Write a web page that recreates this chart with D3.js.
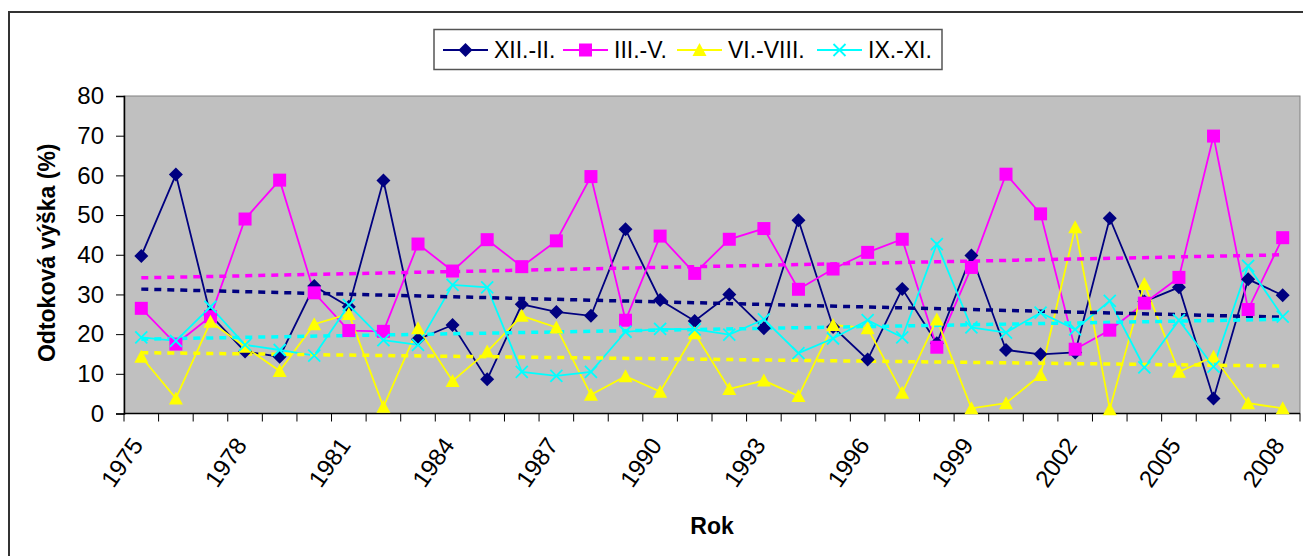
<!DOCTYPE html>
<html>
<head>
<meta charset="utf-8">
<script src="https://cdn.jsdelivr.net/npm/d3@7"></script>
<style>
  body { margin: 0; background: #fff; }
  text { font-family: "Liberation Sans", Arial, sans-serif; }
</style>
</head>
<body>
<div id="chart"></div>
<script>
// data
const years = [1975, 1976, 1977, 1978, 1979, 1980, 1981, 1982, 1983, 1984, 1985,
  1986, 1987, 1988, 1989, 1990, 1991, 1992, 1993, 1994, 1995, 1996, 1997, 1998,
  1999, 2000, 2001, 2002, 2003, 2004, 2005, 2006, 2007, 2008];
const tickYears = [1975, 1978, 1981, 1984, 1987, 1990, 1993, 1996, 1999, 2002, 2005, 2008];
const yTicks = [0, 10, 20, 30, 40, 50, 60, 70, 80];

const zima = [39.7, 60.2, 24.8, 15.6, 14.3, 32.1, 26.9, 58.7, 18.7, 22.3, 8.6,
  27.5, 25.6, 24.6, 46.4, 28.6, 23.3, 30.0, 21.5, 48.7, 21.8, 13.6, 31.4, 17.7,
  39.8, 16.0, 14.9, 15.4, 49.2, 28.2, 31.8, 3.8, 33.8, 29.8];
const jaro = [26.5, 17.5, 24.4, 49.0, 58.8, 30.4, 20.9, 20.7, 42.7, 35.9, 43.8,
  37.0, 43.5, 59.7, 23.5, 44.7, 35.3, 43.9, 46.6, 31.3, 36.4, 40.6, 43.9, 16.7,
  36.8, 60.3, 50.3, 16.2, 21.0, 27.8, 34.3, 69.9, 26.2, 44.3];
const leto = [14.3, 3.8, 23.1, 16.8, 10.7, 22.5, 25.1, 1.7, 21.5, 8.2, 15.6,
  24.6, 21.7, 4.7, 9.4, 5.5, 20.2, 6.2, 8.3, 4.4, 22.3, 21.5, 5.2, 23.7,
  1.3, 2.6, 9.7, 46.9, 1.1, 32.6, 10.5, 14.3, 2.6, 1.3];
const podzim = [19.2, 18.3, 26.9, 17.3, 16.0, 14.6, 27.3, 18.5, 17.3, 32.4, 31.8,
  10.5, 9.5, 10.5, 20.6, 21.3, 21.2, 19.9, 23.7, 15.2, 18.9, 23.5, 19.2, 42.7,
  21.7, 20.4, 25.4, 21.2, 28.4, 11.6, 23.5, 11.8, 37.2, 24.4];

const seriesNames = ["XII.-II.", "III.-V.", "VI.-VIII.", "IX.-XI."];
const seriesColors = ["#000080", "#FF00FF", "#FFFF00", "#00FFFF"];
const seriesShapes = ["diamond", "square", "triangle", "x"];

const series = [zima, jaro, leto, podzim].map((vals, i) => ({
  name: seriesNames[i], color: seriesColors[i], shape: seriesShapes[i],
  values: vals.map((v, j) => ({year: years[j], value: v}))
}));

// set the dimensions and margins of the graph
const W = 1303, H = 556;
const margin = {top: 96, right: 3, bottom: 142.5, left: 124},
    width = W - margin.left - margin.right,
    height = H - margin.top - margin.bottom;

const root = d3.select("#chart")
  .append("svg")
    .attr("width", W)
    .attr("height", H);

// chart border
root.append("rect")
  .attr("x", 9).attr("y", 12)
  .attr("width", W + 20).attr("height", H + 20)
  .attr("fill", "#fff")
  .attr("stroke", "#333").attr("stroke-width", 2);

const svg = root.append("g")
  .attr("transform", `translate(${margin.left}, ${margin.top})`);

const x = d3.scaleBand()
  .domain(years)
  .range([0, width])
  .padding(0);

const y = d3.scaleLinear()
  .domain([0, 80])
  .range([height, 0]);

// plot area
svg.append("rect")
  .attr("width", width).attr("height", height)
  .attr("fill", "#C0C0C0")
  .attr("stroke", "#808080").attr("stroke-width", 1);

// Y axis
const yAxis = svg.append("g")
  .call(d3.axisLeft(y).tickValues(yTicks).tickSize(8).tickPadding(12));
yAxis.select(".domain").attr("stroke", "#000").attr("stroke-width", 1.5);
yAxis.selectAll(".tick line").attr("stroke", "#000");
yAxis.selectAll("text")
  .style("font-size", "24px")
  .style("font-family", "Liberation Sans, Arial, sans-serif")
  .attr("fill", "#000");

// X axis: ticks between categories, labels every third year
const xAxis = svg.append("g")
  .attr("transform", `translate(0, ${height})`);
xAxis.append("line")
  .attr("x1", 0).attr("x2", width)
  .attr("stroke", "#000").attr("stroke-width", 1.5);
xAxis.selectAll("line.tk")
  .data(years.concat([null]))
  .enter()
  .append("line")
    .attr("class", "tk")
    .attr("x1", (d, i) => i * x.bandwidth())
    .attr("x2", (d, i) => i * x.bandwidth())
    .attr("y1", 0).attr("y2", 8)
    .attr("stroke", "#000");
xAxis.selectAll("text")
  .data(tickYears)
  .enter()
  .append("text")
    .attr("transform", d => `translate(${x(d) + x.bandwidth() / 2 - 4}, 27) rotate(-55)`)
    .attr("text-anchor", "end")
    .attr("dy", "0.35em")
    .style("font-size", "24px")
    .text(d => d);

// axis titles
root.append("text")
  .attr("x", margin.left + width / 2).attr("y", 534)
  .attr("text-anchor", "middle")
  .style("font-size", "23px").style("font-weight", "bold")
  .text("Rok");
root.append("text")
  .attr("transform", `translate(55, ${margin.top + height / 2 - 2}) rotate(-90)`)
  .attr("text-anchor", "middle")
  .style("font-size", "23px").style("font-weight", "bold")
  .text("Odtoková výška (%)");

const cx = d => x(d.year) + x.bandwidth() / 2;

// Lines
const line = d3.line().x(cx).y(d => y(d.value));
svg.selectAll("path.series")
  .data(series)
  .enter()
  .append("path")
    .attr("class", "series")
    .attr("d", s => line(s.values))
    .attr("fill", "none")
    .attr("stroke", s => s.color)
    .attr("stroke-width", 1.8);

// linear trend lines (least squares on the series)
function trend(vals) {
  const n = vals.length;
  const mx = d3.mean(vals, (d, i) => i), my = d3.mean(vals, d => d.value);
  let sxy = 0, sxx = 0;
  vals.forEach((d, i) => { sxy += (i - mx) * (d.value - my); sxx += (i - mx) * (i - mx); });
  const b = sxy / sxx, a = my - b * mx;
  return [vals[0], vals[n - 1]].map((d, k) => ({year: d.year, value: a + b * (k ? n - 1 : 0)}));
}
svg.selectAll("path.trend")
  .data(series)
  .enter()
  .append("path")
    .attr("class", "trend")
    .attr("d", s => line(trend(s.values)))
    .attr("fill", "none")
    .attr("stroke", s => s.color)
    .attr("stroke-width", 3.5)
    .attr("stroke-dasharray", "7,6");

// marker shapes
const shapePath = {
  diamond: "M0,-7L7,0L0,7L-7,0Z",
  square: "M-6.5,-6.5H6.5V6.5H-6.5Z",
  triangle: "M0,-7L7,6L-7,6Z",
  x: "M-6,-6L6,6M-6,6L6,-6"
};
function drawMarker(sel, s) {
  sel.append("path")
    .attr("d", shapePath[s.shape])
    .attr("fill", s.shape === "x" ? "none" : s.color)
    .attr("stroke", s.color)
    .attr("stroke-width", s.shape === "x" ? 1.8 : 0);
}

// Markers
series.forEach(s => {
  svg.append("g").selectAll("g")
    .data(s.values)
    .enter()
    .append("g")
      .attr("transform", d => `translate(${cx(d)}, ${y(d.value)})`)
      .each(function() { drawMarker(d3.select(this), s); });
});

// Legend
const legend = root.append("g");
legend.append("rect")
  .attr("x", 434).attr("y", 29.5)
  .attr("width", 508).attr("height", 40)
  .attr("fill", "#fff")
  .attr("stroke", "#555").attr("stroke-width", 1.5);
const legendX = [443, 563, 677, 817];
series.forEach((s, i) => {
  const g = legend.append("g").attr("transform", `translate(${legendX[i]}, 50)`);
  g.append("line").attr("x1", 0).attr("x2", 45)
    .attr("stroke", s.color).attr("stroke-width", 2);
  drawMarker(g.append("g").attr("transform", "translate(22.5, 0)"), s);
  g.append("text")
    .attr("x", 51).attr("y", 8)
    .style("font-size", "23px")
    .text(s.name);
});
</script>
</body>
</html>
